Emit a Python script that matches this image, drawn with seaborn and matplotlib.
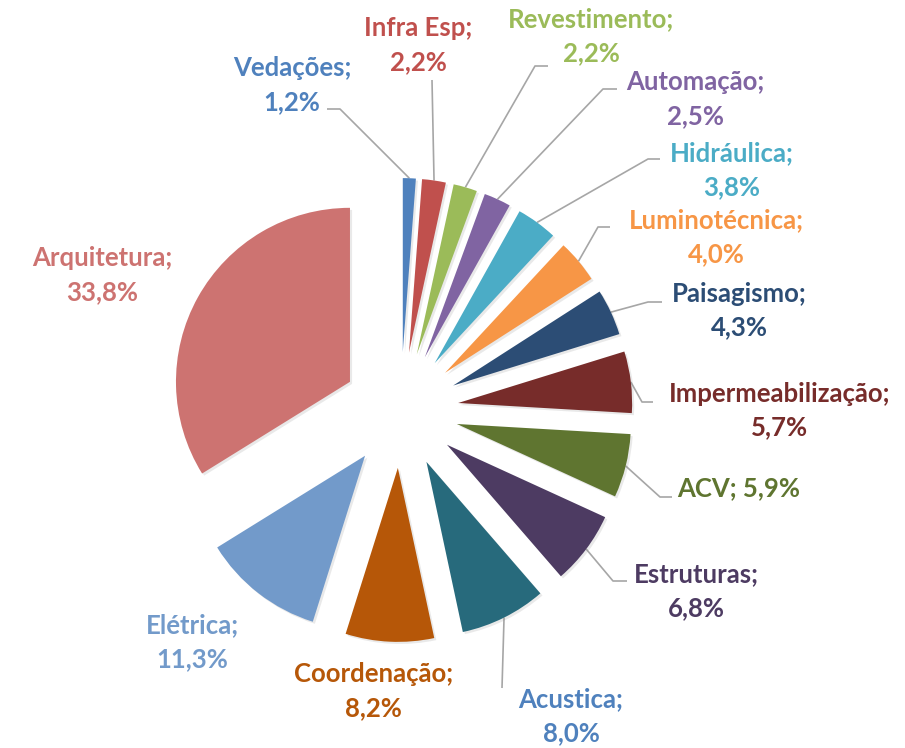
import numpy as np
import matplotlib
matplotlib.use("Agg")
import matplotlib.pyplot as plt
import matplotlib.patheffects as pe
import seaborn as sns

# ---------------- data ----------------
categories = ["Vedações", "Infra Esp", "Revestimento", "Automação", "Hidráulica",
              "Luminotécnica", "Paisagismo", "Impermeabilização", "ACV",
              "Estruturas", "Acustica", "Coordenação", "Elétrica", "Arquitetura"]
values = [1.2, 2.2, 2.2, 2.5, 3.8, 4.0, 4.3, 5.7, 5.9, 6.8, 8.0, 8.2, 11.3, 33.8]
slice_colors = ["#4F81BD", "#C0504D", "#9BBB59", "#8064A2", "#4BACC6",
                "#F79646", "#2C4D75", "#772C2A", "#5F7530", "#4D3B62",
                "#276A7C", "#B65708", "#729ACA", "#CD7371"]
label_colors = ["#4F81BD", "#C0504D", "#9BBB59", "#8064A2", "#4BACC6",
                "#F79646", "#2C4D75", "#772C2A", "#5F7530", "#4D3B62",
                "#4F81BD", "#B65708", "#729ACA", "#CD7371"]
one_line_labels = ["ACV"]

# ---------------- layout (pixels) ----------------
W, H = 905, 748
CX, CY, R = 400.6, 410.0, 174.0
EXPLODE = 0.333
label_pos = [(292, 85), (418, 45.5), (591, 36.5), (695, 99.5), (732, 170.5),
             (716.5, 237.5), (739, 310.5), (779.5, 410.5), (739, 488),
             (696, 591.5), (571, 716.5), (373.5, 691.5), (192, 642.5),
             (102.5, 275)]
# leader: (x_start, x_elbow, y) in pixels, None for no leader
leaders = [(327, 340, 109), (432, 432, 80), (548, 535, 66), (617, 603, 89),
           (660, 648, 159), (610, 598, 227), (662, 648, 302), (653, 642, 402),
           (672, 660, 497), (627, 613, 581), (502, 502, 688), None, None, None]


def px(x):
    return (x - CX) / R


def py(y):
    return (CY - y) / R


sns.set_theme(style="white")
plt.rcParams["font.family"] = ["Lato", "DejaVu Sans"]

fig = plt.figure(figsize=(W / 100, H / 100), dpi=100)
ax = fig.add_axes([0, 0, 1, 1])

wedges, _ = ax.pie(values, colors=slice_colors, explode=[EXPLODE] * len(values),
                   startangle=90, counterclock=False, radius=1,
                   wedgeprops=dict(linewidth=0))
for w in wedges:
    w.set_path_effects([pe.SimplePatchShadow(offset=(1.5, -1.5), shadow_rgbFace="#888888", alpha=0.18),
                        pe.Normal()])

ax.set_xlim(px(0), px(W))
ax.set_ylim(py(H), py(0))
ax.set_aspect("auto")
ax.axis("off")

total = sum(values)
cum = 0.0
for i, (cat, v) in enumerate(zip(categories, values)):
    mid = np.deg2rad(90 - 360 * (cum + v / 2) / total)
    cum += v
    val_txt = f"{v:.1f}".replace(".", ",") + "%"
    txt = f"{cat}; {val_txt}" if cat in one_line_labels else f"{cat};\n{val_txt}"
    lx, ly = label_pos[i]
    ax.text(px(lx), py(ly), txt, ha="center", va="center", color=label_colors[i],
            fontsize=18.5, fontweight="bold", linespacing=1.5)
    if leaders[i] is not None:
        x0, x1, yy = leaders[i]
        ex, ey = (1 + EXPLODE) * np.cos(mid), (1 + EXPLODE) * np.sin(mid)
        ax.plot([px(x0), px(x1), ex], [py(yy), py(yy), ey], color="#A6A6A6",
                lw=1.2, solid_capstyle="butt", zorder=0.5)

fig.savefig("out.png", dpi=100)
